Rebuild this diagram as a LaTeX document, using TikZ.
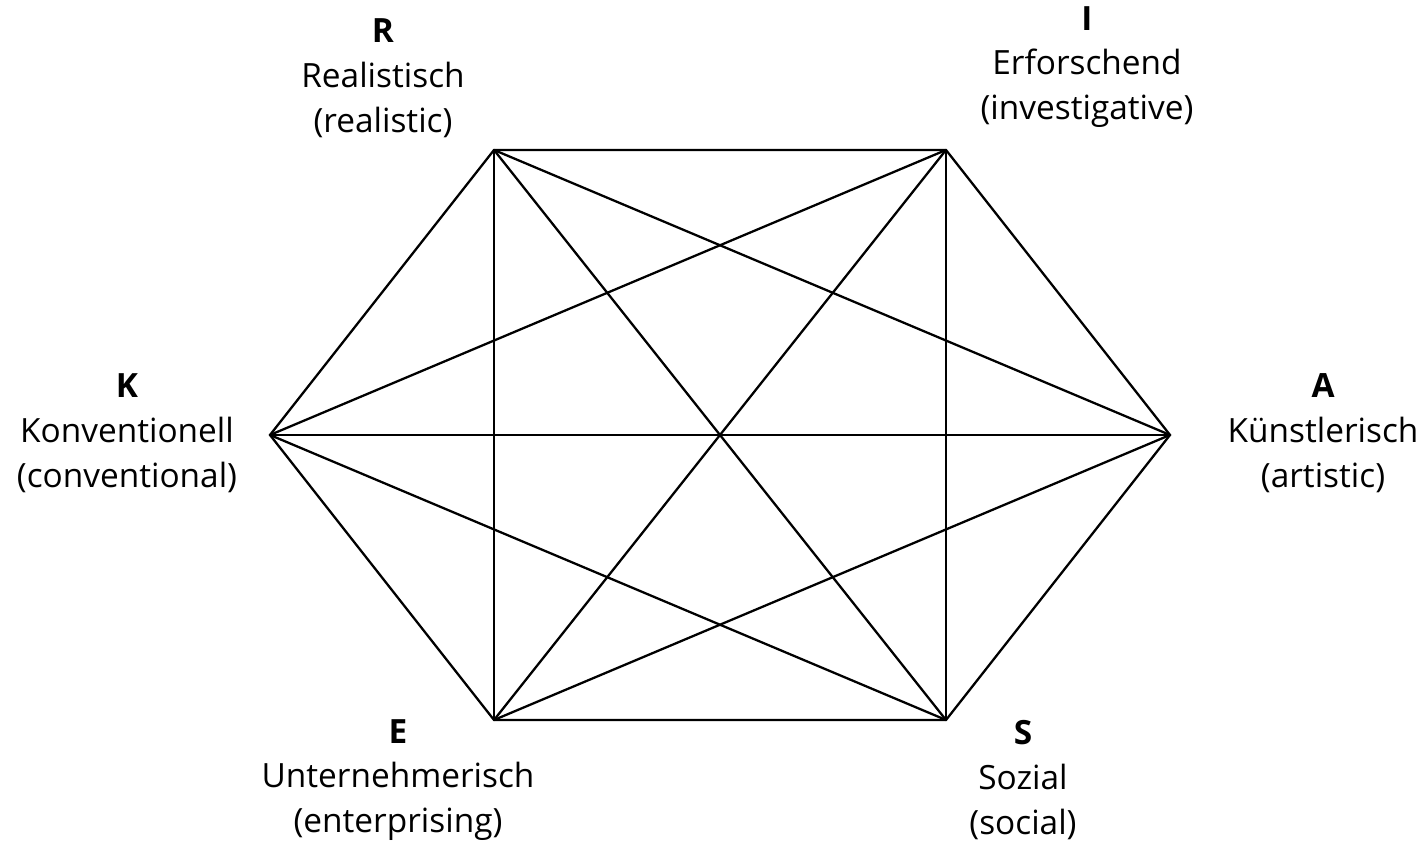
\documentclass[tikz,border=0pt]{standalone}
\usepackage{fontspec}
\setmainfont{Open Sans}
\usepackage{tikz}
\usetikzlibrary{positioning}

\tikzset{
  typelabel/.style={align=center, font=\fontsize{19}{25.5}\selectfont, inner sep=0pt},
  hexline/.style={line width=1.3pt, line join=miter}
}

\begin{document}
\begin{tikzpicture}
\useasboundingbox (0,0) rectangle (28.38,16.9);
% Corners of the hexagon
\coordinate (R) at (9.88,13.9);
\coordinate (I) at (18.92,13.9);
\coordinate (A) at (23.4,8.2);
\coordinate (S) at (18.92,2.5);
\coordinate (E) at (9.88,2.5);
\coordinate (K) at (5.4,8.2);

% Outer hexagon
\draw[hexline] (R) -- (I) -- (A) -- (S) -- (E) -- (K) -- cycle;
% Diagonals
\draw[hexline] (R) -- (A); \draw[hexline] (R) -- (S); \draw[hexline] (R) -- (E);
\draw[hexline] (I) -- (S); \draw[hexline] (I) -- (E); \draw[hexline] (I) -- (K);
\draw[hexline] (A) -- (E); \draw[hexline] (A) -- (K);
\draw[hexline] (S) -- (K);

% Labels
\node[typelabel] (lR) at (7.66,15.34) {\textbf{R}\\Realistisch\\(realistic)};
\node[typelabel] (lI) at (21.74,15.56) {\textbf{I}\\Erforschend\\(investigative)};
\node[typelabel] (lK) at (2.54,8.24) {\textbf{K}\\Konventionell\\(conventional)};
\node[typelabel] (lA) at (26.46,8.24) {\textbf{A}\\Künstlerisch\\(artistic)};
\node[typelabel] (lE) at (7.96,1.3) {\textbf{E}\\Unternehmerisch\\(enterprising)};
\node[typelabel] (lS) at (20.46,1.3) {\textbf{S}\\Sozial\\(social)};
\end{tikzpicture}
\end{document}
